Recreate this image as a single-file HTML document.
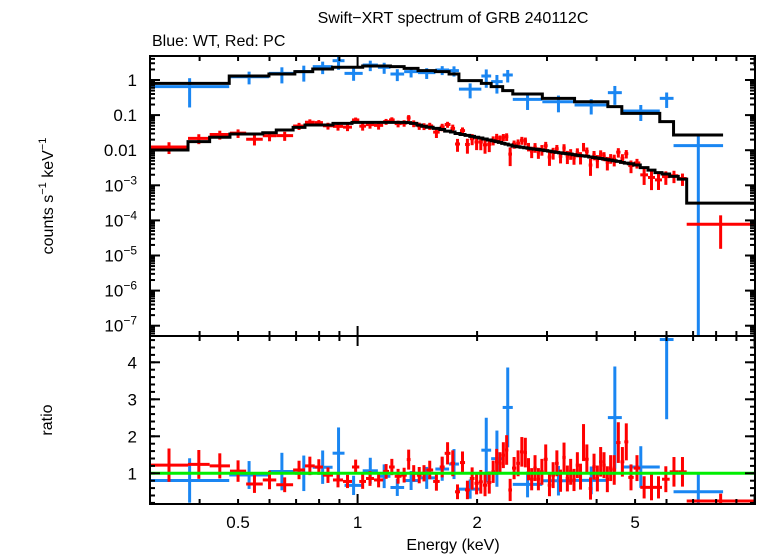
<!DOCTYPE html>
<html><head><meta charset="utf-8">
<style>
html,body{margin:0;padding:0;background:#fff;}
svg{display:block;font-family:"Liberation Sans",sans-serif;}
</style></head>
<body>
<svg id="chart" width="758" height="556" viewBox="0 0 758 556" xmlns="http://www.w3.org/2000/svg">
<defs>
<clipPath id="clipU"><rect x="150" y="56" width="605" height="280"/></clipPath>
<clipPath id="clipR"><rect x="150" y="336" width="605" height="168"/></clipPath>
</defs>
<text x="453" y="23" font-size="16" text-anchor="middle">Swift−XRT spectrum of GRB 240112C</text>
<text x="152" y="46" font-size="16">Blue: WT, Red: PC</text>
<text transform="translate(53,196) rotate(-90)" font-size="16" text-anchor="middle">counts s<tspan font-size="11" dy="-7">−1</tspan><tspan dy="7"> keV</tspan><tspan font-size="11" dy="-7">−1</tspan></text>
<text transform="translate(52,420) rotate(-90)" font-size="16" text-anchor="middle">ratio</text>
<text x="453" y="550" font-size="16" text-anchor="middle">Energy (keV)</text>
<g id="gU" clip-path="url(#clipU)"></g>
<g id="gR" clip-path="url(#clipR)"></g>
<g id="gAx"></g>
</svg>
<script>
// ---- data ----
const blueEdges=[0.30,0.475,0.598,0.695,0.771,0.865,0.927,1.03,1.125,1.21,1.31,1.42,1.57,1.70,1.80,2.05,2.17,2.32,2.46,2.92,3.52,4.27,4.63,5.77,6.25,8.33];
const blueCounts=[0.645,1.24,1.55,1.73,2.4,3.55,1.55,2.67,2.3,1.48,1.73,1.62,1.93,1.85,0.55,1.30,0.90,1.39,0.28,0.24,0.194,0.436,0.131,0.30,0.0135];
const blueErr=[0.48,0.49,0.75,0.83,0.93,1.6,0.6,0.88,0.8,0.55,0.55,0.55,0.55,0.6,0.25,0.7,0.49,0.54,0.14,0.12,0.09,0.24,0.063,0.14,0.014];
const blueModel=[0.80,1.30,1.48,1.73,2.06,2.30,2.30,2.5,2.5,2.4,2.15,1.85,1.73,1.48,0.96,0.80,0.645,0.50,0.40,0.30,0.24,0.174,0.112,0.065,0.027];

const redEdges=[0.3,0.374,0.424,0.477,0.524,0.577,0.624,0.688,0.737,0.780,0.818,0.867,0.919,0.968,1.01,1.05,1.10,1.16,1.20,1.24,1.29,1.33,1.36,1.41,1.45,1.49,1.55,1.61,1.657,
1.714,1.760,1.811,1.865,1.917,1.970,2.019,2.068,2.121,2.172,2.219,2.262,2.307,2.351,2.397,2.449,2.509,2.565,2.621,2.671,2.719,2.771,2.827,2.881,2.944,3.012,3.075,3.143,3.211,3.279,3.344,3.409,3.474,3.544,3.612,3.676,3.740,3.821,3.902,3.980,4.056,4.135,4.217,4.298,4.381,4.481,4.594,4.697,4.807,4.960,5.153,5.389,5.612,5.845,6.111,6.423,6.745,10.0];
const redModel=[0.0101,0.0175,0.0233,0.029,0.029,0.0315,0.0376,0.0448,0.0522,0.0522,0.0522,0.0582,0.0582,0.0622,0.0622,0.0622,0.0622,0.0622,0.0622,0.0622,0.0622,0.061,0.058,0.052,0.048,0.045,0.042,0.039,
0.035,0.033,0.030,0.028,0.0265,0.0248,0.0234,0.0222,0.0209,0.0196,0.0185,0.0176,0.0167,0.0157,0.0149,0.0141,0.0131,0.0125,0.0121,0.0117,0.0114,0.0110,0.0107,0.0105,0.0101,0.0097,0.0094,0.0090,0.0087,0.0084,0.0081,0.0079,0.0077,0.0074,0.0072,0.0070,0.0069,0.0067,0.0064,0.0062,0.0060,0.0058,0.0056,0.0054,0.0052,0.0050,0.0048,0.0045,0.0043,0.0041,0.0038,0.0032,0.0027,0.0023,0.0021,0.0018,0.0015,0.00031];
const redRatio=[1.22,1.24,1.2,1.06,0.71,0.82,0.69,1.09,1.2,1.17,0.95,0.82,0.78,1.17,0.78,0.86,0.82,1.05,1.17,0.92,0.95,1.37,1.0,0.95,1.0,1.09,0.78,1.17,
1.54,1.27,0.50,1.29,0.55,0.86,0.73,0.77,0.68,0.75,1.04,1.31,1.27,1.49,1.63,0.55,1.14,1.27,1.58,1.56,1.11,0.84,1.14,0.84,1.04,1.38,0.68,0.95,1.27,0.80,1.43,0.86,1.04,0.82,1.22,0.91,1.83,1.38,0.59,1.18,0.86,1.31,1.22,0.84,1.14,1.09,1.83,1.31,1.85,0.89,1.14,0.62,0.62,0.62,0.84,1.04,1.04,0.25];
const redRatioErr=[0.45,0.39,0.34,0.29,0.24,0.25,0.2,0.25,0.25,0.21,0.21,0.2,0.18,0.2,0.2,0.2,0.2,0.2,0.22,0.2,0.2,0.27,0.22,0.22,0.22,0.25,0.25,0.28,
0.3,0.35,0.2,0.3,0.25,0.3,0.3,0.32,0.3,0.3,0.3,0.35,0.3,0.35,0.4,0.3,0.3,0.35,0.4,0.4,0.3,0.3,0.35,0.3,0.35,0.4,0.3,0.35,0.35,0.3,0.4,0.35,0.35,0.3,0.35,0.35,0.5,0.4,0.3,0.35,0.35,0.4,0.35,0.35,0.35,0.4,0.55,0.4,0.5,0.35,0.35,0.3,0.35,0.3,0.35,0.4,0.4,0.2];

const xTickMinor=[0.3,0.4,0.5,0.6,0.7,0.8,0.9,2,3,4,5,6,7,8,9];
const xTickMajor=[1,10];
const xTickLabels=["0.5","1","2","5"];
const xTickLabelVals=[0.5,1,2,5];
const yDecades=[-7,-6,-5,-4,-3,-2,-1,0];
const yDecadeLabels=["10|−7","10|−6","10|−5","10|−4","10|−3","0.01","0.1","1"];
const ratioMajor=[1,2,3,4];
const ratioLabels=["1","2","3","4"];

// ---- axes ----
const X0=150,X1=755,UT=56,UB=336,RB=504;
const xE=e=>150+397*Math.log10(e/0.3);
const yU=v=>{if(v<=0)return UB+20;const y=80-35.1*Math.log10(v);return Math.max(UT-20,Math.min(UB+20,y));};
const yR=r=>473.3-37*(r-1);
const NS="http://www.w3.org/2000/svg";
function mk(tag,attrs,parent){const el=document.createElementNS(NS,tag);for(const k in attrs)el.setAttribute(k,attrs[k]);parent.appendChild(el);return el;}
const gU=document.getElementById('gU'),gR=document.getElementById('gR'),gAx=document.getElementById('gAx');
const BLUE="#1a86f2",RED="#ff0000";

function drawData(edges,vals,errs,color,g,yf,name,bottom,logScale){
  for(let i=0;i<vals.length;i++){
    const lo=edges[i],hi=edges[i+1],c=Math.sqrt(lo*hi);
    const grp=mk('g',{},g);
    
    
    const y=yf(vals[i]);
    mk('line',{x1:xE(lo),x2:xE(hi),y1:y,y2:y,stroke:color,'stroke-width':3},grp);
    const l=vals[i]-errs[i];
    const yl=(logScale&&l<=0)?bottom:yf(l);
    mk('line',{x1:xE(c),x2:xE(c),y1:yf(vals[i]+errs[i]),y2:yl,stroke:color,'stroke-width':3},grp);
  }
}
function drawModel(edges,vals,g,name){
  let d="";
  for(let i=0;i<vals.length;i++){
    const y=yU(vals[i]);
    d+=(i===0?"M":"L")+xE(edges[i])+","+y+"L"+xE(edges[i+1])+","+y;
  }
  const p=mk('path',{d:d,fill:"none",stroke:"#000",'stroke-width':3},g);
  
  
}
// upper panel
drawData(blueEdges,blueCounts,blueErr,BLUE,gU,yU,'wt-spectrum',UB+40,true);
drawData(redEdges,redModel.map((m,i)=>m*redRatio[i]),redModel.map((m,i)=>m*redRatioErr[i]),RED,gU,yU,'pc-spectrum',UB+40,true);
drawModel(blueEdges,blueModel,gU,'wt-model-line');
drawModel(redEdges,redModel,gU,'pc-model-line');
// ratio panel
drawData(blueEdges,blueCounts.map((c,i)=>c/blueModel[i]),blueErr.map((e,i)=>e/blueModel[i]),BLUE,gR,yR,'wt-ratio',RB+40,false);
drawData(redEdges,redRatio,redRatioErr,RED,gR,yR,'pc-ratio',RB+40,false);
const gl=mk('line',{x1:X0,x2:X1,y1:yR(1),y2:yR(1),stroke:"#00ee00",'stroke-width':3},gR);



// frames
const f1=mk('rect',{x:X0,y:UT,width:X1-X0,height:UB-UT,fill:"none",stroke:"#000",'stroke-width':2},gAx);


const f2=mk('rect',{x:X0,y:UB,width:X1-X0,height:RB-UB,fill:"none",stroke:"#000",'stroke-width':2},gAx);



function tk(x1,y1,x2,y2){mk('line',{x1:x1,y1:y1,x2:x2,y2:y2,stroke:"#000",'stroke-width':2},gAx);}
// x ticks
[[UT,1],[UB,1],[UB,-1],[RB,-1]].forEach(([yy,dir])=>{
  xTickMinor.forEach(e=>{const x=xE(e);tk(x,yy,x,yy+dir*5);});
  xTickMajor.forEach(e=>{const x=xE(e);if(x<=X1)tk(x,yy,x,yy+dir*10);});
});
xTickLabelVals.forEach((e,i)=>{
  const t=mk('text',{x:xE(e),y:528,'font-size':17,'text-anchor':'middle'},gAx);
  t.textContent=xTickLabels[i];
  
  
});
// upper y ticks
yDecades.forEach((d,i)=>{
  const y=80-35.1*d;
  tk(X0,y,X0+10,y);tk(X1,y,X1-10,y);
  for(let m=2;m<=9;m++){const ym=80-35.1*(d+Math.log10(m));if(ym>UT&&ym<UB){tk(X0,ym,X0+5,ym);tk(X1,ym,X1-5,ym);}}
  const lab=yDecadeLabels[i];
  const t=mk('text',{x:137,y:y+6,'font-size':17,'text-anchor':'end'},gAx);
  
  
  if(lab.indexOf('|')>=0){
    const [b,e]=lab.split('|');
    const s1=document.createElementNS(NS,'tspan');s1.textContent=b;t.appendChild(s1);
    const s2=document.createElementNS(NS,'tspan');s2.setAttribute('font-size','12');s2.setAttribute('dy','-7');s2.textContent=e;t.appendChild(s2);
  } else t.textContent=lab;
});
{const d=-8;for(let m=2;m<=9;m++){const ym=80-35.1*(d+Math.log10(m));if(ym>UT&&ym<UB){tk(X0,ym,X0+5,ym);tk(X1,ym,X1-5,ym);}}}
// ratio ticks
for(let k=1;k<=23;k++){const r=k*0.2;const y=yR(r);if(y>UB&&y<RB){tk(X0,y,X0+5,y);tk(X1,y,X1-5,y);}}
ratioMajor.forEach((r,i)=>{
  const y=yR(r);tk(X0,y,X0+10,y);tk(X1,y,X1-10,y);
  const t=mk('text',{x:137,y:y+6,'font-size':17,'text-anchor':'end'},gAx);
  t.textContent=ratioLabels[i];
  
  
});
</script>
</body></html>
